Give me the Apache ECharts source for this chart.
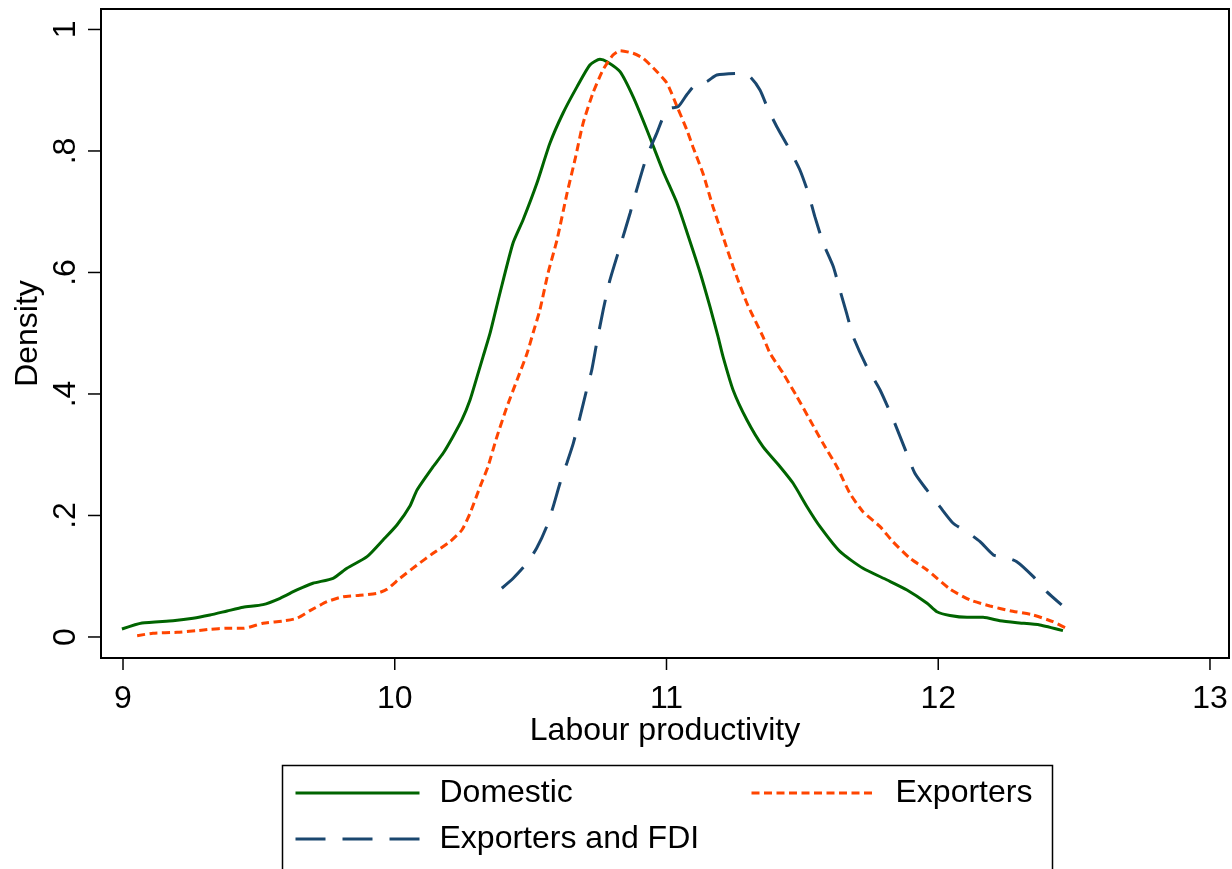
<!DOCTYPE html>
<html>
<head>
<meta charset="utf-8">
<title>Labour productivity density</title>
<script src="https://cdn.jsdelivr.net/npm/echarts@6/dist/echarts.min.js"></script>
<style>
  html, body { margin: 0; padding: 0; background: #fff; }
  #chart { width: 1232px; height: 869px; }
</style>
</head>
<body>
<div id="chart"></div>
<script>
// Kernel density estimates of log labour productivity, by firm type: [x, density]
const domestic = [
  [8.996, 0.0132], [9.070, 0.0230], [9.184, 0.0268], [9.258, 0.0308], [9.320, 0.0362],
  [9.383, 0.0428], [9.442, 0.0489], [9.515, 0.0532], [9.578, 0.0637], [9.640, 0.0774],
  [9.699, 0.0884], [9.773, 0.0966], [9.824, 0.1131], [9.898, 0.1322], [9.957, 0.1597],
  [10.008, 0.1844], [10.056, 0.2156], [10.082, 0.2420], [10.141, 0.2803], [10.178, 0.3024],
  [10.214, 0.3297], [10.247, 0.3572], [10.277, 0.3901], [10.303, 0.4285], [10.325, 0.4614],
  [10.351, 0.5004], [10.387, 0.5658], [10.435, 0.6481], [10.472, 0.6864], [10.523, 0.7468],
  [10.571, 0.8127], [10.619, 0.8621], [10.671, 0.9059], [10.718, 0.9416], [10.755, 0.9509],
  [10.781, 0.9470], [10.829, 0.9305], [10.877, 0.8894], [10.928, 0.8346], [10.987, 0.7671],
  [11.039, 0.7139], [11.075, 0.6667], [11.123, 0.6008], [11.160, 0.5437], [11.189, 0.4955],
  [11.208, 0.4614], [11.245, 0.4066], [11.296, 0.3572], [11.355, 0.3133], [11.418, 0.2803],
  [11.466, 0.2530], [11.517, 0.2145], [11.565, 0.1816], [11.639, 0.1404], [11.723, 0.1131],
  [11.812, 0.0938], [11.885, 0.0774], [11.959, 0.0555], [11.995, 0.0416], [12.043, 0.0354],
  [12.106, 0.0324], [12.165, 0.0324], [12.227, 0.0268], [12.290, 0.0235], [12.374, 0.0198],
  [12.459, 0.0104]
];

const exporters = [
  [9.052, 0.0021], [9.110, 0.0061], [9.199, 0.0077], [9.272, 0.0104], [9.320, 0.0127],
  [9.383, 0.0143], [9.442, 0.0143], [9.515, 0.0226], [9.589, 0.0263], [9.640, 0.0308],
  [9.688, 0.0433], [9.751, 0.0581], [9.810, 0.0663], [9.872, 0.0686], [9.935, 0.0719],
  [9.971, 0.0785], [10.019, 0.0966], [10.082, 0.1185], [10.141, 0.1378], [10.203, 0.1569],
  [10.247, 0.1761], [10.277, 0.2036], [10.314, 0.2474], [10.343, 0.2803], [10.376, 0.3297],
  [10.413, 0.3791], [10.450, 0.4230], [10.487, 0.4670], [10.509, 0.5004], [10.534, 0.5383],
  [10.564, 0.5987], [10.597, 0.6535], [10.634, 0.7304], [10.663, 0.7852], [10.693, 0.8456],
  [10.729, 0.8950], [10.766, 0.9333], [10.803, 0.9580], [10.829, 0.9651], [10.877, 0.9608],
  [10.914, 0.9526], [10.965, 0.9305], [11.002, 0.9114], [11.039, 0.8729], [11.075, 0.8346],
  [11.097, 0.8071], [11.134, 0.7633], [11.171, 0.7083], [11.208, 0.6589], [11.245, 0.6096],
  [11.296, 0.5493], [11.355, 0.4943], [11.381, 0.4670], [11.429, 0.4341], [11.480, 0.3956],
  [11.528, 0.3572], [11.576, 0.3188], [11.627, 0.2803], [11.675, 0.2365], [11.723, 0.2063],
  [11.786, 0.1816], [11.833, 0.1569], [11.896, 0.1295], [11.959, 0.1103], [12.043, 0.0790],
  [12.117, 0.0609], [12.190, 0.0510], [12.264, 0.0433], [12.349, 0.0362], [12.422, 0.0252],
  [12.478, 0.0127]
];

const exportersFdi = [
  [10.394, 0.0802], [10.436, 0.0966], [10.486, 0.1213], [10.522, 0.1460], [10.559, 0.1816],
  [10.583, 0.2145], [10.608, 0.2530], [10.633, 0.2859], [10.657, 0.3188], [10.682, 0.3626],
  [10.706, 0.4066], [10.725, 0.4395], [10.743, 0.4835], [10.767, 0.5383], [10.792, 0.5877],
  [10.829, 0.6425], [10.866, 0.6975], [10.890, 0.7358], [10.927, 0.7906], [10.964, 0.8291],
  [10.994, 0.8621], [11.013, 0.8703], [11.043, 0.8729], [11.074, 0.8922], [11.111, 0.9114],
  [11.148, 0.9141], [11.185, 0.9251], [11.270, 0.9279], [11.307, 0.9223], [11.344, 0.9004],
  [11.375, 0.8675], [11.406, 0.8400], [11.454, 0.8016], [11.491, 0.7687], [11.522, 0.7304],
  [11.546, 0.6919], [11.577, 0.6481], [11.614, 0.6096], [11.638, 0.5712], [11.663, 0.5328],
  [11.687, 0.4943], [11.737, 0.4449], [11.786, 0.4066], [11.835, 0.3572], [11.884, 0.3024],
  [11.914, 0.2695], [11.958, 0.2420], [12.006, 0.2145], [12.055, 0.1872], [12.105, 0.1733],
  [12.154, 0.1569], [12.203, 0.1350], [12.239, 0.1322], [12.289, 0.1240], [12.350, 0.0993],
  [12.399, 0.0746], [12.454, 0.0527]
];

const seriesNames = ['Domestic', 'Exporters', 'Exporters and FDI'];
const xTicks = [9, 10, 11, 12, 13];
const yTicks = [0, 0.2, 0.4, 0.6, 0.8, 1];
const yTickLabels = ['0', '.2', '.4', '.6', '.8', '1'];
const xRange = [8.919, 13.07];
const yRange = [-0.0346, 1.0337];

const FONT = '"Liberation Sans", Arial, Helvetica, sans-serif';
const BLACK = '#000';
const colors = ['#006400', '#ff4500', '#1a476f'];
const TICK_LEN_X = 12;
const TICK_LEN_Y = 13;

const chart = echarts.init(document.getElementById('chart'), null, { renderer: 'canvas' });

// One legend block per key so the keys sit in a two-column layout
function legendBlock(name, left, top) {
  return {
    data: [name],
    left: left,
    top: top,
    padding: 0,
    itemWidth: 124,
    itemHeight: 1,
    selectedMode: false,
    itemStyle: { opacity: 0 },
    lineStyle: { width: 3 },
    textStyle: {
      fontFamily: FONT,
      fontSize: 32,
      color: BLACK,
      padding: [0, 0, 0, 15]
    }
  };
}

chart.setOption({
  backgroundColor: '#fff',
  animation: false,
  grid: {
    left: 101,
    top: 9,
    right: 3,
    bottom: 211,
    show: true,
    borderColor: BLACK,
    borderWidth: 2
  },
  xAxis: {
    type: 'value',
    min: xRange[0],
    max: xRange[1],
    name: 'Labour productivity',
    nameLocation: 'middle',
    nameGap: 57,
    nameMoveOverlap: false,
    nameTextStyle: { fontFamily: FONT, fontSize: 32, color: BLACK },
    axisLine: { show: true, onZero: false, lineStyle: { color: BLACK, width: 2 } },
    splitLine: { show: false },
    axisTick: { show: false },
    axisLabel: { customValues: xTicks, margin: 25, fontFamily: FONT, fontSize: 32, color: BLACK }
  },
  yAxis: {
    type: 'value',
    min: yRange[0],
    max: yRange[1],
    name: 'Density',
    nameLocation: 'middle',
    nameGap: 57,
    nameMoveOverlap: false,
    nameTextStyle: { fontFamily: FONT, fontSize: 32, color: BLACK },
    axisLine: { show: true, onZero: false, lineStyle: { color: BLACK, width: 2 } },
    splitLine: { show: false },
    axisTick: { show: false },
    axisLabel: {
      customValues: yTicks,
      rotate: 90,
      margin: 19,
      fontFamily: FONT,
      fontSize: 32,
      color: BLACK,
      formatter: function (v) {
        const i = yTicks.findIndex(t => Math.abs(t - v) < 1e-9);
        return i >= 0 ? yTickLabels[i] : '';
      }
    }
  },
  legend: [
    legendBlock(seriesNames[0], 294, 777),
    legendBlock(seriesNames[1], 750, 777),
    legendBlock(seriesNames[2], 294, 823)
  ],
  series: [
    {
      name: seriesNames[0],
      type: 'line',
      data: domestic,
      symbol: 'none',
      smooth: 0.2,
      lineStyle: { color: colors[0], width: 3, type: 'solid' },
      itemStyle: { color: colors[0] }
    },
    {
      name: seriesNames[1],
      type: 'line',
      data: exporters,
      symbol: 'none',
      smooth: 0.2,
      lineStyle: { color: colors[1], width: 3, type: [8, 4.5] },
      itemStyle: { color: colors[1] }
    },
    {
      name: seriesNames[2],
      type: 'line',
      data: exportersFdi,
      symbol: 'none',
      smooth: 0.2,
      lineStyle: { color: colors[2], width: 3, type: [30, 17] },
      itemStyle: { color: colors[2] }
    }
  ]
});

// Outward tick marks, placed through the axes' own scales
const axisLeft = chart.convertToPixel({ xAxisIndex: 0 }, xRange[0]);
const axisBottom = chart.convertToPixel({ yAxisIndex: 0 }, yRange[0]);
const tickStyle = { stroke: BLACK, lineWidth: 1.5 };
const tickMarks = [];
xTicks.forEach(v => {
  const px = chart.convertToPixel({ xAxisIndex: 0 }, v);
  tickMarks.push({
    type: 'line', silent: true,
    shape: { x1: px, y1: axisBottom, x2: px, y2: axisBottom + TICK_LEN_X },
    style: tickStyle
  });
});
yTicks.forEach(v => {
  const py = chart.convertToPixel({ yAxisIndex: 0 }, v);
  tickMarks.push({
    type: 'line', silent: true,
    shape: { x1: axisLeft - TICK_LEN_Y, y1: py, x2: axisLeft, y2: py },
    style: tickStyle
  });
});

// Frame around the legend keys
chart.setOption({
  graphic: tickMarks.concat([{
    type: 'rect',
    left: 280,
    top: 763,
    shape: { width: 770, height: 130 },
    style: { fill: 'none', stroke: BLACK, lineWidth: 1.5 },
    silent: true
  }])
});
</script>
</body>
</html>
